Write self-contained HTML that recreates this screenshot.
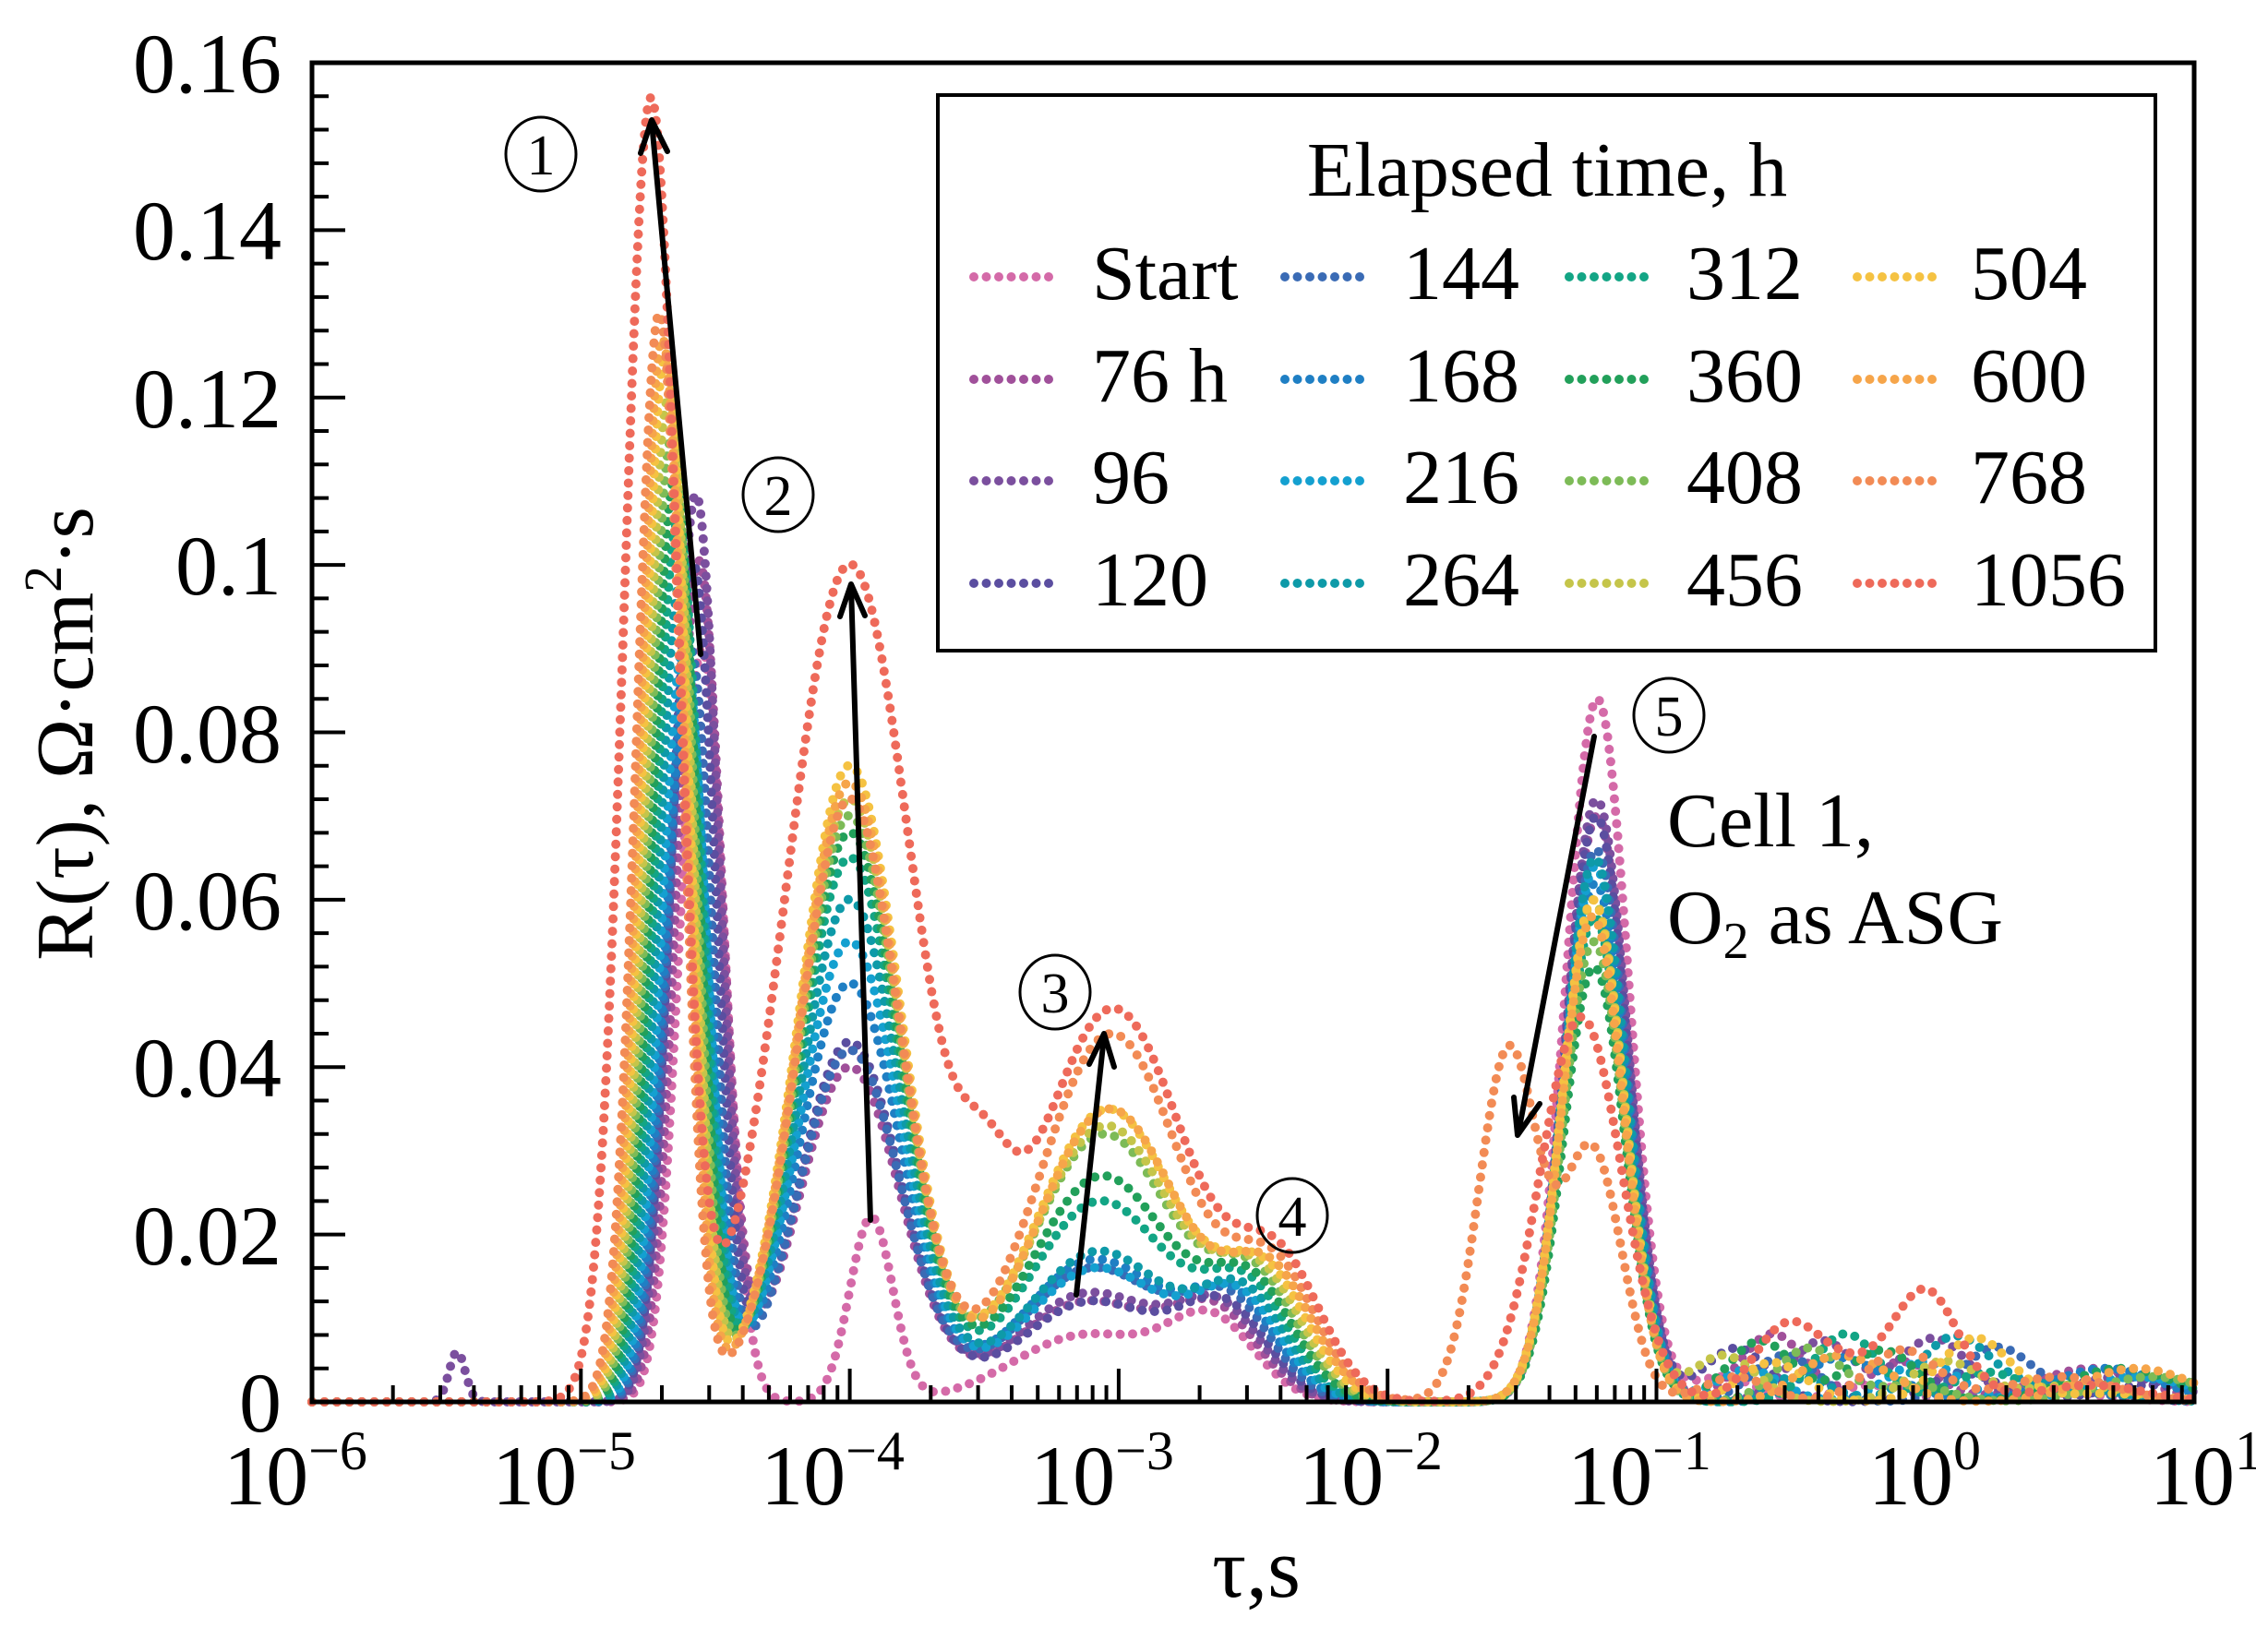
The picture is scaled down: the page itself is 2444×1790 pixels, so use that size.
<!DOCTYPE html>
<html><head><meta charset="utf-8"><style>
html,body{margin:0;padding:0;background:#fff;}
svg{display:block;}
text{font-family:"Liberation Serif",serif;fill:#000;}
</style></head><body>
<svg id="s" width="2444" height="1790" viewBox="0 0 2444 1790" xmlns="http://www.w3.org/2000/svg">
<g id="curves"></g>
<rect x="338" y="68" width="2039" height="1451" fill="none" stroke="#000" stroke-width="5"/>
<g id="ticks" stroke="#000" stroke-width="4"></g>
<g font-size="92" text-anchor="end">
<text x="305" y="1551">0</text>
<text x="305" y="1370">0.02</text>
<text x="305" y="1188">0.04</text>
<text x="305" y="1007">0.06</text>
<text x="305" y="826">0.08</text>
<text x="305" y="644">0.1</text>
<text x="305" y="463">0.12</text>
<text x="305" y="281">0.14</text>
<text x="305" y="100">0.16</text>
</g>
<g font-size="92" text-anchor="middle">
<text x="320" y="1630">10<tspan dy="-38" font-size="60">−6</tspan></text>
<text x="611" y="1630">10<tspan dy="-38" font-size="60">−5</tspan></text>
<text x="902" y="1630">10<tspan dy="-38" font-size="60">−4</tspan></text>
<text x="1194" y="1630">10<tspan dy="-38" font-size="60">−3</tspan></text>
<text x="1485" y="1630">10<tspan dy="-38" font-size="60">−2</tspan></text>
<text x="1776" y="1630">10<tspan dy="-38" font-size="60">−1</tspan></text>
<text x="2085" y="1630">10<tspan dy="-38" font-size="60">0</tspan></text>
<text x="2390" y="1630">10<tspan dy="-38" font-size="60">1</tspan></text>
</g>
<text x="1361" y="1730" font-size="92" text-anchor="middle">τ,s</text>
<text transform="translate(100,795) rotate(-90)" font-size="88" text-anchor="middle">R(τ), Ω·cm<tspan dy="-34" font-size="58">2</tspan><tspan dy="34">·s</tspan></text>
<rect x="1016" y="103" width="1319" height="602" fill="#fff" stroke="#000" stroke-width="4"/>
<text x="1676" y="212" font-size="84" text-anchor="middle">Elapsed time, h</text>
<g id="leg"></g>
<g font-size="84">
<text x="1183" y="324">Start</text><text x="1183" y="435">76 h</text><text x="1183" y="545">96</text><text x="1183" y="656">120</text>
<text x="1520" y="324">144</text><text x="1520" y="435">168</text><text x="1520" y="545">216</text><text x="1520" y="656">264</text>
<text x="1827" y="324">312</text><text x="1827" y="435">360</text><text x="1827" y="545">408</text><text x="1827" y="656">456</text>
<text x="2135" y="324">504</text><text x="2135" y="435">600</text><text x="2135" y="545">768</text><text x="2135" y="656">1056</text>
</g>
<g fill="none" stroke="#000" stroke-width="3">
<ellipse cx="586" cy="167" rx="38" ry="40"/>
<ellipse cx="843" cy="536" rx="38" ry="40"/>
<ellipse cx="1143" cy="1075" rx="38" ry="40"/>
<ellipse cx="1400" cy="1317" rx="38" ry="40"/>
<ellipse cx="1808" cy="775" rx="38" ry="40"/>
</g>
<g font-size="62" text-anchor="middle">
<text x="586" y="189">1</text><text x="843" y="558">2</text><text x="1143" y="1097">3</text><text x="1400" y="1339">4</text><text x="1808" y="797">5</text>
</g>
<g stroke="#000" stroke-width="6" fill="none" stroke-linecap="round" stroke-linejoin="round">
<line x1="759" y1="709" x2="706" y2="132"/><polyline points="694,166 706,130 723,164"/>
<line x1="943" y1="1322" x2="922" y2="635"/><polyline points="910,668 922,633 937,667"/>
<line x1="1166" y1="1403" x2="1196" y2="1123"/><polyline points="1180,1153 1196,1120 1207,1156"/>
<line x1="1727" y1="798" x2="1645" y2="1227"/><polyline points="1640,1189 1644,1230 1668,1196"/>
</g>
<text x="1806" y="917" font-size="84">Cell 1,</text>
<text x="1806" y="1022" font-size="84">O<tspan dy="16" font-size="56">2</tspan><tspan dy="-16"> as ASG</tspan></text>
</svg>
<script>
var NS="http://www.w3.org/2000/svg";
function X(l){return 338+(l+6)*291.3;}
function Y(v){return 1519-v*9069;}
var cols=["#d46aa8","#a0509a","#7b4f9e","#5b4ea0","#3a6bb5","#1f7fc4","#14a0d0","#0e9aa8","#13a585","#22a05a","#7dbb57","#c5c54a","#f5c242","#f6a54a","#f28b55","#ee6a5a"];
var p1=[.09,.1,.108,.1,.09,.085,.09,.098,.105,.11,.115,.12,.125,.127,.13,.155];
var p2=[.022,.04,.042,.043,.042,.05,.055,.06,.065,.068,.07,.072,.076,.074,.072,.1];
var p3=[.008,.012,.013,.012,.016,.017,.016,.018,.024,.027,.032,.033,.035,.035,.044,.047];
var p5=[.084,.07,.072,.07,.066,.062,.064,.065,.058,.052,.055,.06,.06,.058,.03,.046];
var g=document.getElementById("curves");
for(var i=0;i<16;i++){
 var t=i/15, G=[];
 G.push([-4.55-0.17*t,0.085,p1[i]]);
 if(i==15)G[0]=[-4.74,0.1,p1[i]];
 G.push([i==0?-3.92:-4.0,i==0?0.08:(i==15?0.24:0.19),p2[i]]);
 G.push([-3.12+0.1*t,i==15?0.28:0.27,p3[i]]);
 G.push([-2.65+0.25*t,0.16,0.009+0.006*t]);
 if(i==14){G.push([-1.24,0.11,p5[i]]);G.push([-1.55,0.11,0.042]);}
 else if(i==15)G.push([-1.28,0.15,p5[i]]);
 else G.push([-1.22-0.02*t,0.115,p5[i]]);
 if(i==15){G.push([-3.5,0.1,0.012]);G.push([0.0,0.12,0.011]);G.push([-0.3,0.15,0.004]);}
 G.push([-0.75+((i*37)%11)/11*0.5,0.12,0.003+((i*13)%7)/7*0.006]);
 G.push([-0.2+((i*29)%13)/13*0.5,0.13,0.002+((i*17)%5)/5*0.007]);
 G.push([0.5+((i*23)%7)/7*0.4,0.2,0.001+((i*7)%4)*0.001]);
 if(i==2)G.push([-5.46,0.03,0.006]);
 var d="";
 for(var k=0;k<=1400;k++){
  var l=-6+7*k/1400,v=0;
  for(var j=0;j<G.length;j++){var z=(l-G[j][0])/G[j][1];v+=G[j][2]*Math.exp(-0.5*z*z);}
  d+=(k?"L":"M")+X(l).toFixed(1)+" "+Y(v).toFixed(1);
 }
 var p=document.createElementNS(NS,"path");
 p.setAttribute("d",d);p.setAttribute("fill","none");p.setAttribute("stroke",cols[i]);
 p.setAttribute("stroke-width","10");p.setAttribute("stroke-linecap","round");
 p.setAttribute("stroke-dasharray","0 13.5");
 g.appendChild(p);
}
var tk=document.getElementById("ticks"),s="";
for(var m=0;m<=40;m++){var y=1519-m*1451/40,L=(m%5==0)?36:18;s+='<line x1="338" y1="'+y+'" x2="'+(338+L)+'" y2="'+y+'"/>';}
for(var dd=-6;dd<1;dd++){for(var n=1;n<10;n++){var x=X(dd+Math.log10(n)),L2=n==1?36:18;s+='<line x1="'+x+'" y1="1519" x2="'+x+'" y2="'+(1519-L2)+'"/>';}}
tk.innerHTML=s;
var lg=document.getElementById("leg"),xs=[1055,1392,1700,2012],ys=[300,411,521,632],h="";
for(var i=0;i<16;i++){var c=Math.floor(i/4),r=i%4;for(var q=0;q<7;q++)h+='<circle cx="'+(xs[c]+q*13.5)+'" cy="'+ys[r]+'" r="5" fill="'+cols[i]+'"/>';}
lg.innerHTML=h;
</script>
</body></html>
